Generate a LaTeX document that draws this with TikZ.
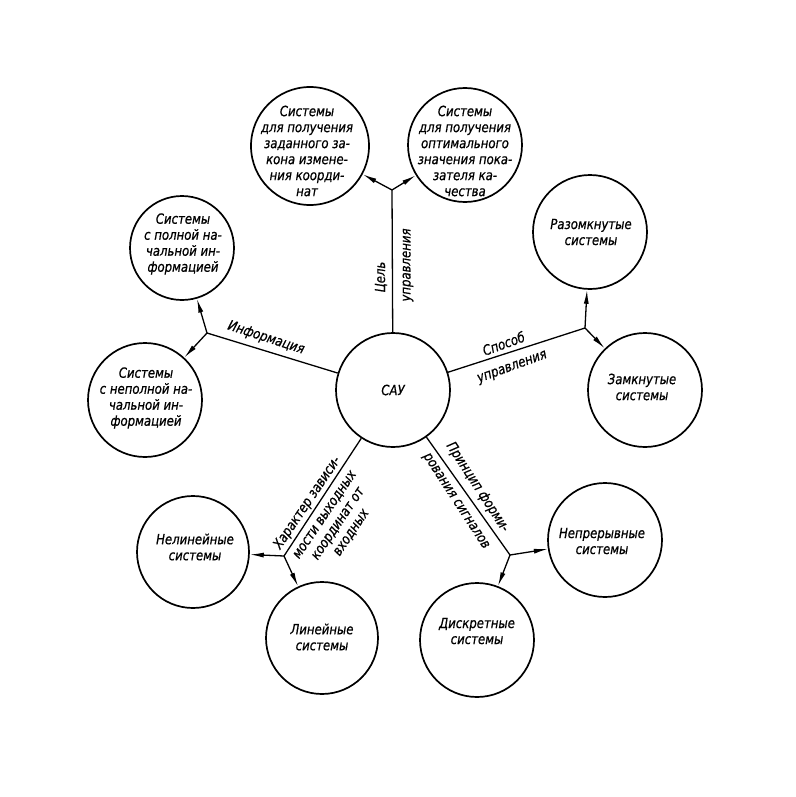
\documentclass[tikz,border=0pt]{standalone}
\usepackage{fontspec}
\setmainfont{DejaVu Sans Condensed}[FakeStretch=0.93,FakeBold=0.6]
\usetikzlibrary{arrows.meta}
\begin{document}
\begin{tikzpicture}[x=1pt,y=-1pt,
  sys/.style={circle,draw,line width=1.7pt,inner sep=0pt},
  txt/.style={inner sep=0pt,align=center,font=\fontsize{14}{16}\selectfont\itshape},
  lbl/.style={inner sep=0pt,align=center,font=\fontsize{14}{16}\selectfont\itshape},
  conn/.style={line width=1.3pt},
  arr/.style={line width=1.3pt,-{Latex[length=14pt,width=5pt]}}]
\useasboundingbox[fill=white] (0,0) rectangle (795,797);
% centre
\node[sys,minimum size=114pt] (sau) at (393,390) {};
\node[txt] (saut) at (393,390) {САУ};
% top
\node[sys,minimum size=118pt] (t1) at (310,146) {};
\node[txt] (t1t) at (307,151) {Системы\\для получения\\заданного за-\\кона измене-\\ния коорди-\\нат};
\node[sys,minimum size=114pt] (t2) at (465,145) {};
\node[txt] (t2t) at (465,151) {Системы\\для получения\\оптимального\\значения пока-\\зателя ка-\\чества};
\coordinate (bt) at (392,190);
% left
\node[sys,minimum size=104pt] (l1) at (182,248) {};
\node[txt] (l1t) at (183,244) {Системы\\с полной на-\\чальной ин-\\формацией};
\node[sys,minimum size=114pt] (l2) at (145,400) {};
\node[txt] (l2t) at (146,398) {Системы\\с неполной на-\\чальной ин-\\формацией};
\coordinate (bl) at (207,333);
% right
\node[sys,minimum size=114pt] (r1) at (590,232) {};
\node[txt] (r1t) at (591,232) {Разомкнутые\\системы};
\node[sys,minimum size=114pt] (r2) at (645,390) {};
\node[txt] (r2t) at (642,387) {Замкнутые\\системы};
\coordinate (br) at (585,328);
% bottom left
\node[sys,minimum size=112pt] (d1) at (193,552) {};
\node[txt] (d1t) at (195,547) {Нелинейные\\системы};
\node[sys,minimum size=112pt] (d2) at (322,638) {};
\node[txt] (d2t) at (322,637) {Линейные\\системы};
\coordinate (bdl) at (284,556);
% bottom right
\node[sys,minimum size=114pt] (e1) at (605,540) {};
\node[txt] (e1t) at (602,541) {Непрерывные\\системы};
\node[sys,minimum size=114pt] (e2) at (477,640) {};
\node[txt] (e2t) at (477,631) {Дискретные\\системы};
\coordinate (bdr) at (510,555);
% connectors
\draw[conn] (sau) -- (bt);
\draw[arr] (bt) -- (t1);
\draw[arr] (bt) -- (t2);
\draw[conn] (sau) -- (bl);
\draw[arr] (bl) -- (l1);
\draw[arr] (bl) -- (l2);
\draw[conn] (sau) -- (br);
\draw[arr] (br) -- (r1);
\draw[arr] (br) -- (r2);
\draw[conn] (sau) -- (bdl);
\draw[arr] (bdl) -- (d1);
\draw[arr] (bdl) -- (d2);
\draw[conn] (sau) -- (bdr);
\draw[arr] (bdr) -- (e1);
\draw[arr] (bdr) -- (e2);
% labels
\node[lbl,rotate=90] (c1) at (381,277) {Цель};
\node[lbl,rotate=90] (c2) at (408,265) {управления};
\node[lbl,rotate=-18] (i1) at (266,338) {Информация};
\node[lbl,rotate=20] (s1) at (508,355.5) {Способ\\[7pt]управления};
\node[lbl,rotate=56] (h1) at (329,517.5) {Характер зависи-\\[5pt]мости выходных\\координат от\\входных};
\node[lbl,rotate=-57] (p1) at (467,494) {Принцип форми-\\[9pt]рования сигналов};
\end{tikzpicture}
\end{document}
